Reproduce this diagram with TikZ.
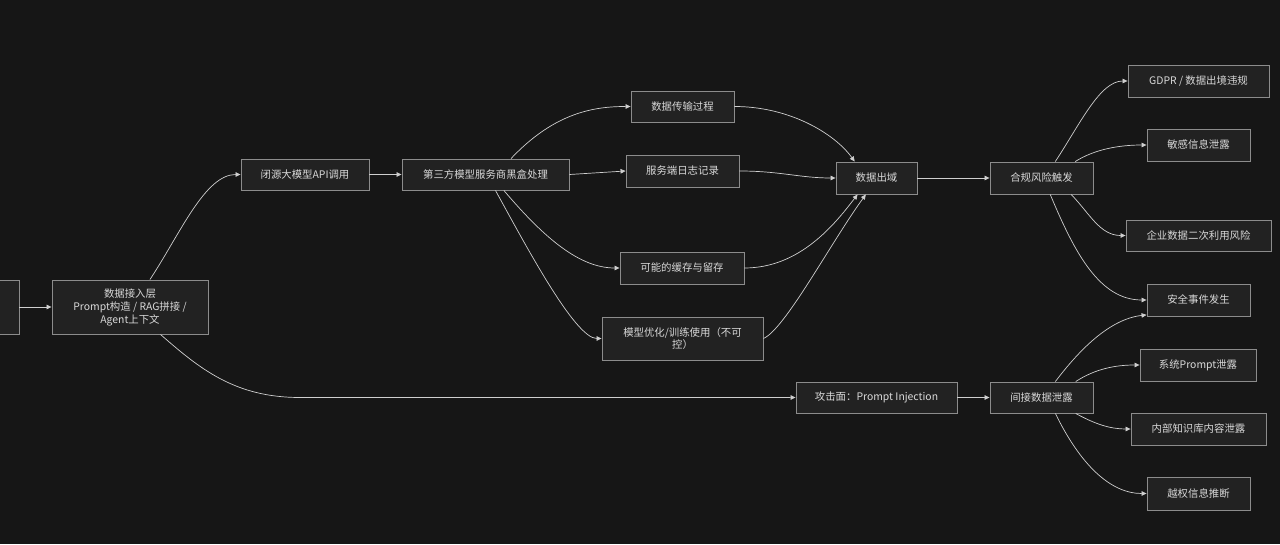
\documentclass[tikz,border=0pt]{standalone}
\usepackage{fontspec}
\setmainfont{Noto Sans CJK SC}
\usetikzlibrary{arrows.meta}
\definecolor{bg}{HTML}{161616}
\definecolor{boxfill}{HTML}{222222}
\definecolor{boxline}{HTML}{8C8C8C}
\definecolor{txt}{HTML}{D9D9D9}
\definecolor{wire}{HTML}{CFCFCF}

\begin{document}
\begin{tikzpicture}[x=1pt,y=1pt,
  box/.style={draw=boxline,fill=boxfill,line width=0.9pt,text=txt,inner sep=0pt,align=center,
    font=\fontsize{10.4}{13}\selectfont},
  sz/.style 2 args={minimum width=#1,minimum height=#2},
  wire/.style={draw=wire,line width=0.7pt,-{Triangle[length=5pt,width=4.5pt]}}]
  \useasboundingbox[fill=bg] (0,0) rectangle (1280,544);
  % input side
  \node[box,sz={79pt}{54pt}] (src) at (-20.5,237) {};
  \node[box,sz={156pt}{54pt}] (ingest) at (130,237) {数据接入层\\Prompt构造 / RAG拼接 /\\Agent上下文};
  \node[box,sz={128pt}{31pt}] (api) at (305,369.5) {闭源大模型API调用};
  \node[box,sz={167pt}{31pt}] (vendor) at (485.5,369.5) {第三方模型服务商黑盒处理};
  % vendor side
  \node[box,sz={103pt}{31pt}] (trans) at (682.5,437.5) {数据传输过程};
  \node[box,sz={113pt}{32pt}] (logs) at (682.5,373) {服务端日志记录};
  \node[box,sz={124pt}{32pt}] (cache) at (682,276) {可能的缓存与留存};
  \node[box,sz={161pt}{43pt},font=\fontsize{10.4}{12.5}\selectfont] (train) at (682.5,205.5) {模型优化/训练使用（不可\\控）};
  \node[box,sz={81pt}{32pt}] (egress) at (876.5,366) {数据出域};
  \node[box,sz={103pt}{32pt}] (comply) at (1041.5,366) {合规风险触发};
  % outcomes
  \node[box,sz={141pt}{32pt}] (gdpr) at (1198.5,463) {GDPR / 数据出境违规};
  \node[box,sz={103pt}{32pt}] (leak) at (1198.5,399) {敏感信息泄露};
  \node[box,sz={145pt}{31pt}] (reuse) at (1198.5,308.5) {企业数据二次利用风险};
  \node[box,sz={103pt}{32pt}] (incident) at (1198.5,244) {安全事件发生};
  % injection branch
  \node[box,sz={161pt}{31pt}] (inject) at (876.5,146.5) {攻击面：Prompt Injection};
  \node[box,sz={103pt}{31pt}] (indirect) at (1041.5,146.5) {间接数据泄露};
  \node[box,sz={116pt}{32pt}] (sysprompt) at (1198,179) {系统Prompt泄露};
  \node[box,sz={135pt}{32pt}] (kb) at (1198.5,115) {内部知识库内容泄露};
  \node[box,sz={103pt}{33pt}] (infer) at (1198.5,50.5) {越权信息推断};

  \draw[wire] (src.east) -- (ingest.west);
  \draw[wire] (ingest.54) .. controls (180,310) and (205,369.5) .. (api.west);
  \draw[wire] (ingest.-42) .. controls (200,175) and (235,146.5) .. (300,146.5) -- (inject.west);
  \draw[wire] (api.east) -- (vendor.west);
  \draw[wire] (vendor.32) .. controls (555,432) and (595,437.5) .. (trans.west);
  \draw[wire] (vendor.east) -- (logs.west);
  \draw[wire] (vendor.-41) .. controls (545,305) and (580,276) .. (cache.west);
  \draw[wire] (vendor.-58) .. controls (525,300) and (575,205.5) .. (train.west);
  \draw[wire] (trans.east) .. controls (790,437.5) and (835,410) .. (egress.143);
  \draw[wire] (logs.east) .. controls (780,373) and (800,366) .. (egress.west);
  \draw[wire] (cache.east) .. controls (800,276) and (835,320) .. (egress.221);
  \draw[wire] (train.east) .. controls (785,215) and (830,300) .. (egress.237);
  \draw[wire] (egress.east) -- (comply.west);
  \draw[wire] (comply.50) .. controls (1080,420) and (1100,463) .. (gdpr.west);
  \draw[wire] (comply.26) .. controls (1095,395) and (1120,399) .. (leak.west);
  \draw[wire] (comply.-29) .. controls (1090,330) and (1100,308.5) .. (reuse.west);
  \draw[wire] (comply.-62) .. controls (1075,290) and (1100,244) .. (incident.west);
  \draw[wire] (inject.east) -- (indirect.west);
  \draw[wire] (indirect.49) .. controls (1080,195) and (1110,225) .. (incident.196);
  \draw[wire] (indirect.25) .. controls (1095,175) and (1115,179) .. (sysprompt.west);
  \draw[wire] (indirect.-25) .. controls (1095,120) and (1110,115) .. (kb.west);
  \draw[wire] (indirect.-49) .. controls (1080,80) and (1110,50.5) .. (infer.west);
\end{tikzpicture}
\end{document}
